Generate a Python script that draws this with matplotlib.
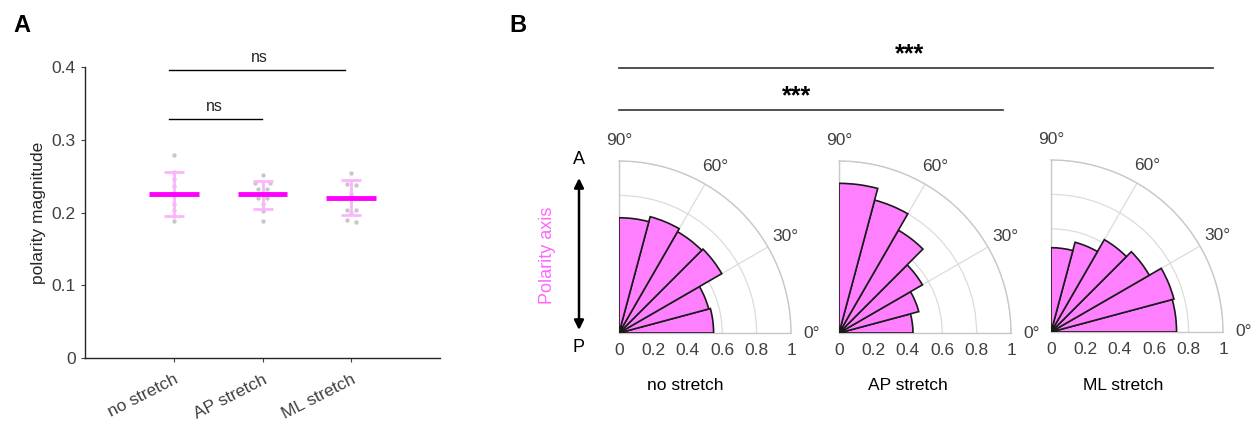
import numpy as np
import matplotlib.pyplot as plt

plt.rcParams['font.family'] = ['Liberation Sans', 'DejaVu Sans']
plt.rcParams['font.size'] = 12

# panel A data
groups = ['no stretch', 'AP stretch', 'ML stretch']
means = [0.225, 0.225, 0.220]
err_hi = [0.255, 0.243, 0.244]
err_lo = [0.195, 0.205, 0.197]
pts_no = [0.279, 0.256, 0.246, 0.237, 0.226, 0.212, 0.203, 0.195, 0.188]
pts_ap = [0.252, 0.241, 0.241, 0.232, 0.232, 0.220, 0.220, 0.211, 0.202, 0.188]
pts_ml = [0.254, 0.239, 0.238, 0.226, 0.204, 0.204, 0.199, 0.190, 0.187]
jit_no = [0, 0, 0, 0, 0, 0, 0, 0, 0]
jit_ap = [0, -0.08, 0.08, -0.05, 0.05, -0.05, 0.05, 0, 0, 0]
jit_ml = [0, -0.05, 0.05, 0, -0.05, 0.05, 0, -0.05, 0.05]

# panel B data: rose histogram, 15 deg bins from 0 to 90
bin_edges = [0, 15, 30, 45, 60, 75, 90]
rose_no = [0.55, 0.54, 0.69, 0.68, 0.70, 0.67]
rose_ap = [0.43, 0.48, 0.56, 0.69, 0.80, 0.87]
rose_ml = [0.73, 0.74, 0.66, 0.62, 0.54, 0.49]

W, H = 1252, 429
fig = plt.figure(figsize=(W / 100, H / 100), dpi=100)

def fx(px):
    return px / W

def fy(py):
    return 1 - py / H

txt = '#262626'

# ---------- panel A ----------
ax = fig.add_axes([fx(85), fy(358), fx(440) - fx(85), fy(67) - fy(358)])
for i, (pts, jit) in enumerate([(pts_no, jit_no), (pts_ap, jit_ap), (pts_ml, jit_ml)]):
    x = i + 1
    ax.scatter(np.array(jit) + x, pts, s=10, color='#c8c8c8', zorder=2, linewidths=0)
    ax.errorbar([x], [means[i]], yerr=[[means[i] - err_lo[i]], [err_hi[i] - means[i]]],
                fmt='none', ecolor='#ffb3ff', elinewidth=2, capsize=7, capthick=2, zorder=3)
    ax.plot([x - 0.28, x + 0.28], [means[i], means[i]], color='#ff00ff', lw=3.5,
            solid_capstyle='butt', zorder=4)

ax.set_xlim(0, 4)
ax.set_ylim(0, 0.4)
ax.set_yticks([0, 0.1, 0.2, 0.3, 0.4])
ax.set_yticklabels(['0', '0.1', '0.2', '0.3', '0.4'])
ax.set_xticks([1, 2, 3])
ax.set_xticklabels(groups, rotation=27, ha='right', rotation_mode='anchor')
for s in ['top', 'right']:
    ax.spines[s].set_visible(False)
for s in ['left', 'bottom']:
    ax.spines[s].set_color(txt)
    ax.spines[s].set_linewidth(1)
ax.tick_params(colors='#404040', labelsize=12.5, length=3, width=0.8)
ax.tick_params(axis='x', pad=7)
ax.set_ylabel('polarity magnitude', color=txt, fontsize=12.5, labelpad=4)

# ns brackets
ax.plot([0.95, 2.93], [0.396, 0.396], color='k', lw=1, clip_on=False)
ax.text(1.96, 0.403, 'ns', ha='center', va='bottom', fontsize=11.5, color=txt)
ax.plot([0.95, 1.99], [0.3285, 0.3285], color='k', lw=1, clip_on=False)
ax.text(1.46, 0.336, 'ns', ha='center', va='bottom', fontsize=11.5, color=txt)

# ---------- panel B ----------
R = 172
origins = [(619, 333), (839, 333), (1051, 332)]
roses = [rose_no, rose_ap, rose_ml]
titles_x = [685, 908, 1123]
theta0 = np.deg2rad(bin_edges[:-1])
width = np.deg2rad(15)

for (ox, oy), vals, title, tx in zip(origins, roses, groups, titles_x):
    pax = fig.add_axes([fx(ox), fy(oy), fx(R), fy(oy - R) - fy(oy)], projection='polar')
    pax.set_thetamin(0)
    pax.set_thetamax(90)
    pax.set_rlim(0, 1)
    pax.bar(theta0, vals, width=width, align='edge', color='#ff80ff',
            edgecolor='#1a1a1a', linewidth=1.2, zorder=3)
    pax.set_thetagrids([0, 30, 60, 90], labels=['0°', '30°', '60°', '90°'])
    pax.set_yticks([0, 0.2, 0.4, 0.6, 0.8, 1.0])
    pax.set_yticklabels(['0', '0.2', '0.4', '0.6', '0.8', '1'])
    pax.set_rlabel_position(0)
    pax.grid(color='#dcdcdc', lw=0.9)
    for s in pax.spines.values():
        s.set_color('#c8c8c8')
        s.set_linewidth(1)
    pax.tick_params(colors='#404040', labelsize=12.5)
    pax.tick_params(axis='x', pad=4)
    fig.text(fx(tx), fy(386), title, ha='center', va='center', fontsize=12.5, color='k')

# overlay in pixel coordinates for annotations
ov = fig.add_axes([0, 0, 1, 1], facecolor='none')
ov.set_xlim(0, W)
ov.set_ylim(H, 0)
ov.axis('off')
ov.annotate('', xy=(579, 178), xytext=(579, 330),
            arrowprops=dict(arrowstyle='<|-|>', color='k', lw=1.8,
                            mutation_scale=14, shrinkA=0, shrinkB=0))
ov.text(579, 160, 'A', ha='center', va='center', fontsize=13)
ov.text(579, 348, 'P', ha='center', va='center', fontsize=13)
ov.text(547, 255, 'Polarity axis', ha='center', va='center', rotation=90,
        fontsize=13, color='#ff66ff')

# significance lines
ov.plot([619, 1213], [68, 68], color='#333333', lw=1.2)
ov.text(910, 66, '***', ha='center', va='bottom', fontsize=18, fontweight='bold')
ov.plot([619, 1003], [110, 110], color='#333333', lw=1.2)
ov.text(797, 108, '***', ha='center', va='bottom', fontsize=18, fontweight='bold')

# panel letters
ov.text(22, 25, 'A', ha='center', va='center', fontsize=17, fontweight='bold')
ov.text(518, 25, 'B', ha='center', va='center', fontsize=17, fontweight='bold')

fig.savefig('out.png', dpi=100)
